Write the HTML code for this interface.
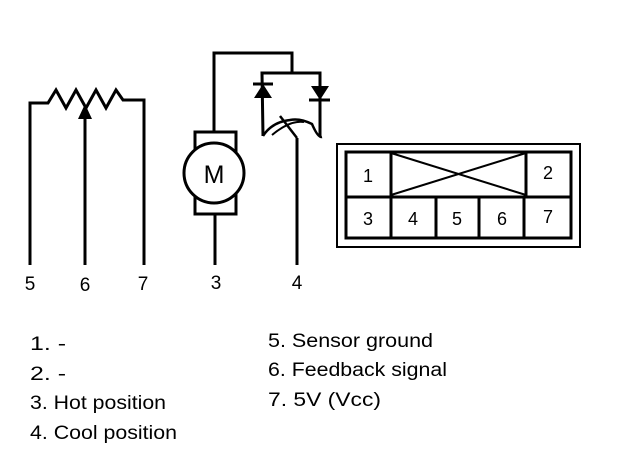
<!DOCTYPE html>
<html><head><style>
body{margin:0;background:#fff;}
svg text{font-family:"Liberation Sans",Arial,sans-serif;fill:#000;}
</style></head><body>
<svg width="624" height="462" viewBox="0 0 624 462" xmlns="http://www.w3.org/2000/svg">
<g stroke="#000" stroke-width="3" fill="none" stroke-linejoin="miter">
<polyline points="30,265 30,103 48,103 56,90 66,108 76,90 86,108 96,90 106,108 116,90 123,100 144,100 144,265"/>
<line x1="85" y1="265" x2="85" y2="118"/>
<polyline points="214,131 214,53 292,53 292,73"/>
<rect x="195" y="132" width="41" height="82" fill="#fff"/>
<circle cx="214" cy="173" r="30" fill="#fff"/>
<line x1="215" y1="215" x2="215" y2="265"/>
<polyline points="263,136 262,73 320,73 320,137"/>
<line x1="253" y1="84" x2="273" y2="84"/>
<line x1="309" y1="100" x2="330" y2="100"/>
<path d="M263,136 Q272,122 290,120 Q300,118 312,124 Q318,138 322,137" stroke-width="2.5"/>
<path d="M272,135 Q290,120 304,122" stroke-width="2"/>
<line x1="297" y1="265" x2="297" y2="138"/>
<line x1="280" y1="116" x2="297" y2="138" stroke-width="2.5"/>
<rect x="337" y="144" width="243" height="103" stroke-width="2"/>
<rect x="346" y="152" width="225" height="86" stroke-width="3"/>
<line x1="346" y1="197" x2="571" y2="197"/>
<line x1="391" y1="152" x2="391" y2="238"/>
<line x1="526" y1="152" x2="526" y2="197"/>
<line x1="436" y1="197" x2="436" y2="238"/>
<line x1="479" y1="197" x2="479" y2="238"/>
<line x1="524" y1="197" x2="524" y2="238"/>
<line x1="391" y1="153" x2="526" y2="195" stroke-width="2"/>
<line x1="391" y1="195" x2="526" y2="153" stroke-width="2"/>
</g>
<polygon points="85,104 78,119 92,119" fill="#000"/>
<polygon points="263,84 254,98 272,98" fill="#000"/>
<polygon points="320,100 311,86 329,86" fill="#000"/>
<text x="214" y="183" font-size="25" text-anchor="middle">M</text>
<g font-size="18" text-anchor="middle">
<text x="368" y="182">1</text><text x="548" y="179">2</text>
<text x="368" y="225">3</text><text x="413" y="225">4</text><text x="457" y="225">5</text><text x="502" y="225">6</text><text x="548" y="223">7</text>
</g>
<g font-size="19" text-anchor="middle">
<text x="30" y="290">5</text><text x="85" y="291">6</text><text x="143" y="290">7</text><text x="216" y="289">3</text><text x="297" y="289">4</text>
</g>
<g font-size="19">
<text x="30" y="350" textLength="36" lengthAdjust="spacingAndGlyphs">1. -</text>
<text x="30" y="380" textLength="36" lengthAdjust="spacingAndGlyphs">2. -</text>
<text x="30" y="409" textLength="136" lengthAdjust="spacingAndGlyphs">3. Hot position</text>
<text x="30" y="439" textLength="147" lengthAdjust="spacingAndGlyphs">4. Cool position</text>
<text x="268" y="347" textLength="165" lengthAdjust="spacingAndGlyphs">5. Sensor ground</text>
<text x="268" y="376" textLength="179" lengthAdjust="spacingAndGlyphs">6. Feedback signal</text>
<text x="268" y="406" textLength="113" lengthAdjust="spacingAndGlyphs">7. 5V (Vcc)</text>
</g>
</svg>
</body></html>
